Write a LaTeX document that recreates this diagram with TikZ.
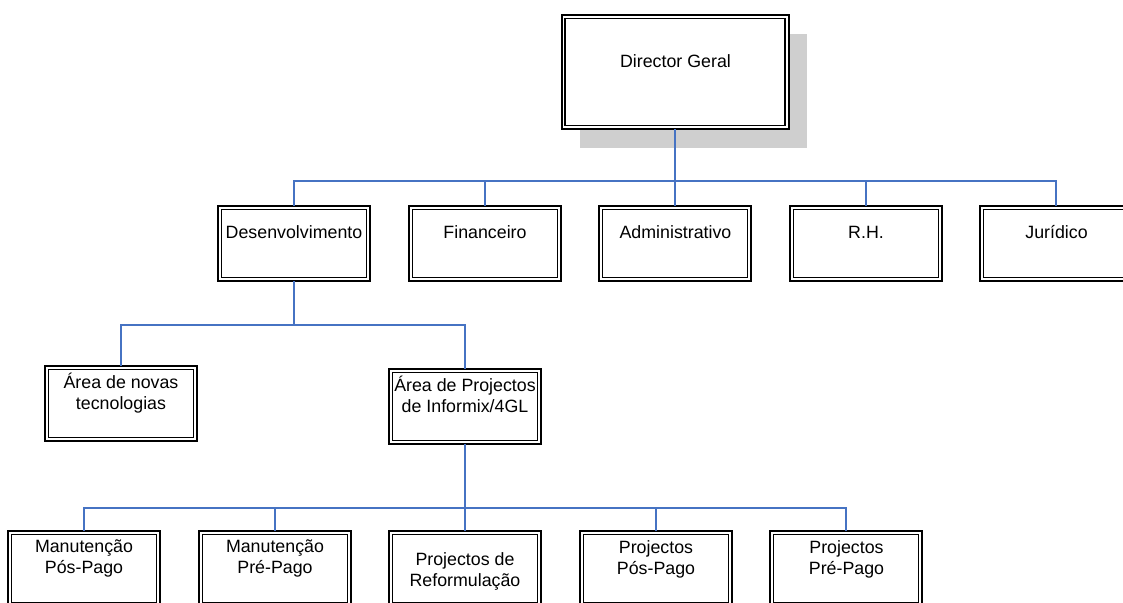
\documentclass[tikz,border=0pt]{standalone}
\usepackage{fontspec}
\setmainfont{Liberation Sans}
\usetikzlibrary{shadows}
\definecolor{linkblue}{RGB}{70,115,195}
\definecolor{shadowgray}{RGB}{207,207,207}
\tikzset{
  orgbox/.style={draw=black, line width=2pt, fill=white,
    minimum width=152pt, minimum height=75pt, inner sep=0pt, outer sep=0pt,
    path picture={\draw[black,line width=1.2pt]
      ([xshift=3.5pt,yshift=-3.5pt]path picture bounding box.north west) rectangle
      ([xshift=-3.5pt,yshift=3.5pt]path picture bounding box.south east);}},
  bigbox/.style={orgbox, minimum width=227pt, minimum height=114pt,
    drop shadow={shadow xshift=18.5pt, shadow yshift=-19pt, fill=shadowgray, opacity=1}},
  lbl/.style={anchor=base, inner sep=0pt, outer sep=0pt, font=\fontsize{17.8}{21}\selectfont},
  link/.style={draw=linkblue, line width=2pt}
}
\newcommand{\twolines}[2]{\begin{tabular}[t]{@{}c@{}}#1\\#2\end{tabular}}
\begin{document}
\begin{tikzpicture}[x=1pt,y=-1pt]
\useasboundingbox (0,0) rectangle (1123,602);
% level 1
\node[bigbox] (dg) at (675,72) {};
% level 2
\node[orgbox] (des) at (294,243.5) {};
\node[orgbox] (fin) at (485,243.5) {};
\node[orgbox] (adm) at (675,243.5) {};
\node[orgbox] (rh)  at (866,243.5) {};
\node[orgbox] (jur) at (1056,243.5) {};
% level 3
\node[orgbox] (nt) at (121,403.5) {};
\node[orgbox] (ap) at (465,406.5) {};
% level 4
\node[orgbox] (mpos) at (84,568.5) {};
\node[orgbox] (mpre) at (275,568.5) {};
\node[orgbox] (pref) at (465,568.5) {};
\node[orgbox] (ppos) at (656,568.5) {};
\node[orgbox] (ppre) at (846,568.5) {};
% bus coordinates
\coordinate (bus1) at (675,181);
\coordinate (bus2) at (294,325);
\coordinate (bus3) at (465,508);
% connectors
\draw[link] (dg.south) -- (bus1);
\foreach \c in {des,fin,adm,rh,jur} \draw[link] (bus1) -| (\c.north);
\draw[link] (des.south) -- (bus2);
\foreach \c in {nt,ap} \draw[link] (bus2) -| (\c.north);
\draw[link] (ap.south) -- (bus3);
\foreach \c in {mpos,mpre,pref,ppos,ppre} \draw[link] (bus3) -| (\c.north);
% labels
\node[lbl] (dgT) at (675.5,67) {Director Geral};
\node[lbl] (desT) at (294,238.5) {Desenvolvimento};
\node[lbl] (finT) at (485,238.5) {Financeiro};
\node[lbl] (admT) at (675.5,238.5) {Administrativo};
\node[lbl] (rhT) at (866,238.5) {R.H.};
\node[lbl] (jurT) at (1056.5,238.5) {Jurídico};
\node[lbl] (ntT) at (121,388) {\twolines{Área de novas}{tecnologias}};
\node[lbl] (apT) at (465,391) {\twolines{Área de Projectos}{de Informix/4GL}};
\node[lbl] (mposT) at (84,552.5) {\twolines{Manutenção}{Pós-Pago}};
\node[lbl] (mpreT) at (275,552.5) {\twolines{Manutenção}{Pré-Pago}};
\node[lbl] (prefT) at (465,565) {\twolines{Projectos de}{Reformulação}};
\node[lbl] (pposT) at (656,553) {\twolines{Projectos}{Pós-Pago}};
\node[lbl] (ppreT) at (846.5,553) {\twolines{Projectos}{Pré-Pago}};
\end{tikzpicture}
\end{document}
